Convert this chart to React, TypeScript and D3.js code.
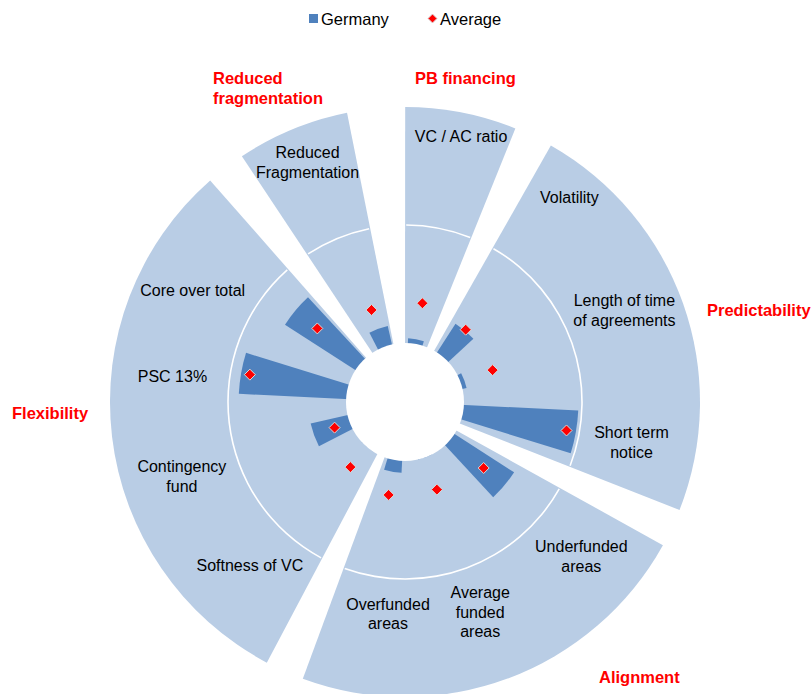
import React from 'react';
import * as d3 from 'd3';

// data
const categories = ['VC / AC ratio', 'Volatility', 'Length of time of agreements', 'Short term notice', 'Underfunded areas', 'Average funded areas', 'Overfunded areas', 'Softness of VC', 'Contingency fund', 'PSC 13%', 'Core over total', 'Reduced Fragmentation'];
const categoryLines = [['VC / AC ratio'], ['Volatility'], ['Length of time', 'of agreements'], ['Short term', 'notice'], ['Underfunded', 'areas'], ['Average', 'funded', 'areas'], ['Overfunded', 'areas'], ['Softness of VC'], ['Contingency', 'fund'], ['PSC 13%'], ['Core over total'], ['Reduced', 'Fragmentation']];
const groups = ['PB financing', 'Predictability', 'Alignment', 'Flexibility', 'Reduced fragmentation'];
const groupSizes = [1, 3, 3, 4, 1];
const germany = [4, 29, 3.5, 97, 60, 0, 10, 0, 32, 91, 71, 16];
const average = [35, 30, 29, 89, 37, 29, 30, 22, 13.5, 83.5, 47, 33];
const legendLabels = ['Germany', 'Average'];

// layout
const W = 811, H = 694;
const cx = 405, cy = 402;
const holeR = 59, midR = 177, outerR = 295;
const deg = Math.PI / 180;
const groupPads = [[4.5, 2.5], [4.1, 3.0], [3.5, 4.2], [2.4, 5.8], [0.9, 5.8]];
const labelNudge = [[1.9, 272], [-1.3, 263], [-2.8, 238], [0, 230], [1.1, 234], [0.3, 223], [-5.4, 212], [3.6, 225], [1.7, 235], [-3.6, 234], [-12.2, 240], [-2.1, 259]];
const groupTitleLines = [['PB financing'], ['Predictability'], ['Alignment'], ['Flexibility'], ['Reduced', 'fragmentation']];
const groupTitlePos = [[415, 78], [707, 310], [599, 677], [12, 413], [213, 78]];

const lightBlue = '#B9CDE5';
const barBlue = '#4F81BD';
const font = '"Liberation Sans", Arial, sans-serif';

const App = () => {
  const idx = d3.range(categories.length);
  const slot = d3.scaleBand<number>().domain(idx).range([-5 * deg, 355 * deg]);
  const barBand = d3.scaleBand<number>().domain(idx).range([-5 * deg, 355 * deg]).paddingInner(0.52).paddingOuter(0.26);
  const rScale = d3.scaleLinear().domain([0, 100]).range([holeR, midR]);
  const step = slot.step();
  const center = (i) => (slot(i) as number) + step / 2;

  let k = 0;
  const groupSpans = groups.map((g, gi) => {
    const first = k;
    k += groupSizes[gi];
    const start = (slot(first) as number) + groupPads[gi][0] * deg;
    const end = (slot(k - 1) as number) + step - groupPads[gi][1] * deg;
    return { g, start, end };
  });

  const bgArc = d3.arc<any>().innerRadius(0).outerRadius(outerR).padAngle(0.055).padRadius(100);
  const divArc = d3.arc<any>().innerRadius(midR - 0.8).outerRadius(midR + 0.8).padAngle(0.055).padRadius(100);
  const barArc = d3.arc<any>().innerRadius(0);

  const polar = (a, r) => [cx + r * Math.sin(a), cy - r * Math.cos(a)];
  const diamond = (x, y, s) => `M${x},${y - s}L${x + s},${y}L${x},${y + s}L${x - s},${y}Z`;
  const lh = 19.5;

  return (
    <svg width={W} height={H} style={{ position: 'absolute', left: 0, top: 0, background: '#fff' }} fontFamily={font}>
      <g transform={`translate(${cx},${cy})`}>
        {groupSpans.map((s, i) => (
          <g key={i}>
            <path d={bgArc({ startAngle: s.start, endAngle: s.end }) as string} fill={lightBlue} />
            <path d={divArc({ startAngle: s.start, endAngle: s.end }) as string} fill="#fff" />
          </g>
        ))}
        {germany.map((v, i) => (
          <path key={i} d={barArc.outerRadius(rScale(v))({ startAngle: barBand(i), endAngle: (barBand(i) as number) + barBand.bandwidth() }) as string} fill={barBlue} />
        ))}
        <circle r={holeR} fill="#fff" />
      </g>
      {average.map((v, i) => {
        const [x, y] = polar(center(i), rScale(v));
        return <path key={i} d={diamond(x, y, 5.5)} fill="#FF0000" stroke="#d8d8d8" strokeWidth={1} />;
      })}
      {categoryLines.map((lines, i) => {
        const [x, y] = polar(center(i) + labelNudge[i][0] * deg, labelNudge[i][1]);
        const y0 = y - ((lines.length - 1) * lh) / 2;
        return (
          <text key={i} x={x} y={y0} textAnchor="middle" dominantBaseline="central" fontSize={16} fill="#000">
            {lines.map((t, j) => <tspan key={j} x={x} y={y0 + j * lh}>{t}</tspan>)}
          </text>
        );
      })}
      {groupTitleLines.map((lines, i) => (
        <text key={i} x={groupTitlePos[i][0]} y={groupTitlePos[i][1]} dominantBaseline="central" fontSize={16.5} fontWeight="bold" fill="#FF0000">
          {lines.map((t, j) => <tspan key={j} x={groupTitlePos[i][0]} y={groupTitlePos[i][1] + j * lh}>{t}</tspan>)}
        </text>
      ))}
      <g fontSize={16.5} fill="#000">
        <rect x={309} y={14} width={9} height={9} fill={barBlue} />
        <text x={321} y={19} dominantBaseline="central">{legendLabels[0]}</text>
        <path d={diamond(432.5, 18.5, 4.5)} fill="#FF0000" stroke="#d8d8d8" strokeWidth={1} />
        <text x={440} y={19} dominantBaseline="central">{legendLabels[1]}</text>
      </g>
    </svg>
  );
};

export default App;
